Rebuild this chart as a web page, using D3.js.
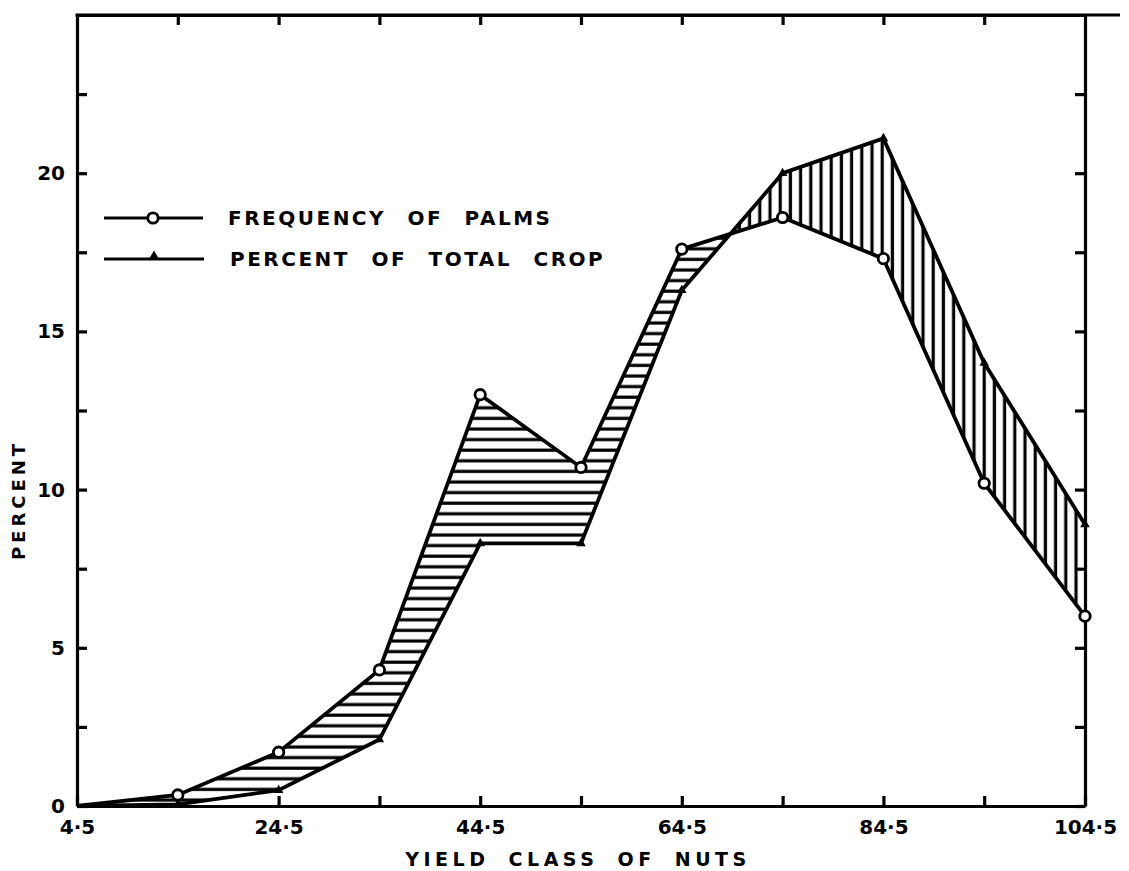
<!DOCTYPE html>
<html>
<head>
<meta charset="utf-8">
<script src="https://cdn.jsdelivr.net/npm/d3@7"></script>
<style>
  body { margin: 0; background: #fff; }
  text { font-family: "DejaVu Sans", sans-serif; font-weight: bold; fill: #000; white-space: pre; }
</style>
</head>
<body>
<div id="chart"></div>
<script>
// yield classes (class mid points) and the two series, in percent
var classes = [4.5, 14.5, 24.5, 34.5, 44.5, 54.5, 64.5, 74.5, 84.5, 94.5, 104.5];
var freqPalms = [0, 0.35, 1.7, 4.3, 13.0, 10.7, 17.6, 18.6, 17.3, 10.2, 6.0];
var pctCrop = [0, 0.05, 0.5, 2.1, 8.3, 8.3, 16.3, 20.0, 21.1, 14.0, 8.9];
var xLabelled = [4.5, 24.5, 44.5, 64.5, 84.5, 104.5];
var yTicks = [0, 2.5, 5, 7.5, 10, 12.5, 15, 17.5, 20, 22.5];
var yLabelled = [0, 5, 10, 15, 20];

var W = 1129, H = 871;
var plotL = 77, plotR = 1085, plotT = 15, plotB = 806;

var svg = d3.select('#chart').append('svg').attr('width', W).attr('height', H);

var x = d3.scaleLinear().domain([4.5, 104.5]).range([plotL, plotR]);
var y = d3.scaleLinear().domain([0, 25]).range([plotB, plotT]);

var data = classes.map(function(c, i) { return {c: c, f: freqPalms[i], p: pctCrop[i]}; });

// hatch patterns
var defs = svg.append('defs');
var ph = defs.append('pattern').attr('id', 'hatchH').attr('patternUnits', 'userSpaceOnUse')
  .attr('width', 20).attr('height', 10.6);
ph.append('line').attr('x1', 0).attr('x2', 20).attr('y1', 5).attr('y2', 5)
  .attr('stroke', '#000').attr('stroke-width', 3.2);
var pv = defs.append('pattern').attr('id', 'hatchV').attr('patternUnits', 'userSpaceOnUse')
  .attr('width', 10.2).attr('height', 20);
pv.append('line').attr('x1', 5).attr('x2', 5).attr('y1', 0).attr('y2', 20)
  .attr('stroke', '#000').attr('stroke-width', 3.2);

// where the two lines cross (between 64.5 and 74.5)
var i0 = 6;
var d1 = freqPalms[i0] - pctCrop[i0], d2 = freqPalms[i0 + 1] - pctCrop[i0 + 1];
var cross = classes[i0] + (classes[i0 + 1] - classes[i0]) * d1 / (d1 - d2);

defs.append('clipPath').attr('id', 'clipL').append('rect')
  .attr('x', 0).attr('y', 0).attr('width', x(cross)).attr('height', H);
defs.append('clipPath').attr('id', 'clipR').append('rect')
  .attr('x', x(cross)).attr('y', 0).attr('width', W).attr('height', H);

var area = d3.area().x(function(d) { return x(d.c); })
  .y0(function(d) { return y(d.p); }).y1(function(d) { return y(d.f); });

svg.append('path').datum(data).attr('d', area).attr('fill', 'url(#hatchH)').attr('clip-path', 'url(#clipL)');
svg.append('path').datum(data).attr('d', area).attr('fill', 'url(#hatchV)').attr('clip-path', 'url(#clipR)');

// axes
function styleAxis(g) {
  g.selectAll('path, line').attr('stroke', '#000').attr('stroke-width', 3.2);
  g.selectAll('text').attr('font-size', 20).attr('font-family', '"DejaVu Sans", sans-serif').attr('font-weight', 'bold');
}

svg.append('g').attr('transform', 'translate(' + plotL + ',0)')
  .call(d3.axisLeft(y).tickValues(yTicks).tickSize(-10).tickSizeOuter(0).tickPadding(12)
    .tickFormat(function(d) { return yLabelled.indexOf(d) >= 0 ? d : ''; }))
  .call(styleAxis);

svg.append('g').attr('transform', 'translate(' + plotR + ',0)')
  .call(d3.axisRight(y).tickValues(yTicks).tickSize(-10).tickSizeOuter(0).tickFormat(''))
  .call(styleAxis);

svg.append('g').attr('transform', 'translate(0,' + plotB + ')')
  .call(d3.axisBottom(x).tickValues(classes).tickSize(-10).tickSizeOuter(0).tickPadding(14)
    .tickFormat(function(d) { return xLabelled.indexOf(d) >= 0 ? String(d).replace('.', '·') : ''; }))
  .call(styleAxis);

svg.append('g').attr('transform', 'translate(0,' + plotT + ')')
  .call(d3.axisTop(x).tickValues(classes.slice(1, -1)).tickSize(-10).tickSizeOuter(0).tickFormat(''))
  .call(styleAxis);
// top frame runs a bit past the right axis
svg.append('line').attr('x1', plotL - 1.5).attr('x2', 1120).attr('y1', plotT).attr('y2', plotT)
  .attr('stroke', '#000').attr('stroke-width', 3.2);

// the two lines
var lineF = d3.line().x(function(d) { return x(d.c); }).y(function(d) { return y(d.f); });
var lineP = d3.line().x(function(d) { return x(d.c); }).y(function(d) { return y(d.p); });
svg.append('path').datum(data).attr('d', lineP).attr('fill', 'none').attr('stroke', '#000').attr('stroke-width', 3.8);
svg.append('path').datum(data).attr('d', lineF).attr('fill', 'none').attr('stroke', '#000').attr('stroke-width', 3.8);

var tri = d3.symbol().type(d3.symbolTriangle).size(40);
svg.selectAll('.tri').data(data.slice(1)).enter().append('path').attr('class', 'tri')
  .attr('d', tri).attr('fill', '#000')
  .attr('transform', function(d) { return 'translate(' + x(d.c) + ',' + y(d.p) + ')'; });

svg.selectAll('.circ').data(data.slice(1)).enter().append('circle').attr('class', 'circ')
  .attr('cx', function(d) { return x(d.c); }).attr('cy', function(d) { return y(d.f); })
  .attr('r', 5.2).attr('fill', '#fff').attr('stroke', '#000').attr('stroke-width', 2.8);

// legend
svg.append('line').attr('x1', 104).attr('x2', 203).attr('y1', 218).attr('y2', 218).attr('stroke', '#000').attr('stroke-width', 3.2);
svg.append('circle').attr('cx', 153).attr('cy', 218).attr('r', 5.2).attr('fill', '#fff').attr('stroke', '#000').attr('stroke-width', 2.8);
svg.append('text').attr('x', 228).attr('y', 225).attr('font-size', 20).attr('letter-spacing', 2.5)
  .attr('word-spacing', 12).text('FREQUENCY OF PALMS');

svg.append('line').attr('x1', 104).attr('x2', 204).attr('y1', 259).attr('y2', 259).attr('stroke', '#000').attr('stroke-width', 3.2);
svg.append('path').attr('d', tri).attr('fill', '#000').attr('transform', 'translate(154,256)');
svg.append('text').attr('x', 230).attr('y', 266).attr('font-size', 20).attr('letter-spacing', 2.5)
  .attr('word-spacing', 12).text('PERCENT OF TOTAL CROP');

// axis titles
svg.append('text').attr('x', 578).attr('y', 866).attr('text-anchor', 'middle').attr('font-size', 19)
  .attr('letter-spacing', 4.5).attr('word-spacing', 8).text('YIELD CLASS OF NUTS');
svg.append('text').attr('transform', 'translate(25,500) rotate(-90)').attr('text-anchor', 'middle')
  .attr('font-size', 18).attr('letter-spacing', 4).text('PERCENT');
</script>
</body>
</html>
